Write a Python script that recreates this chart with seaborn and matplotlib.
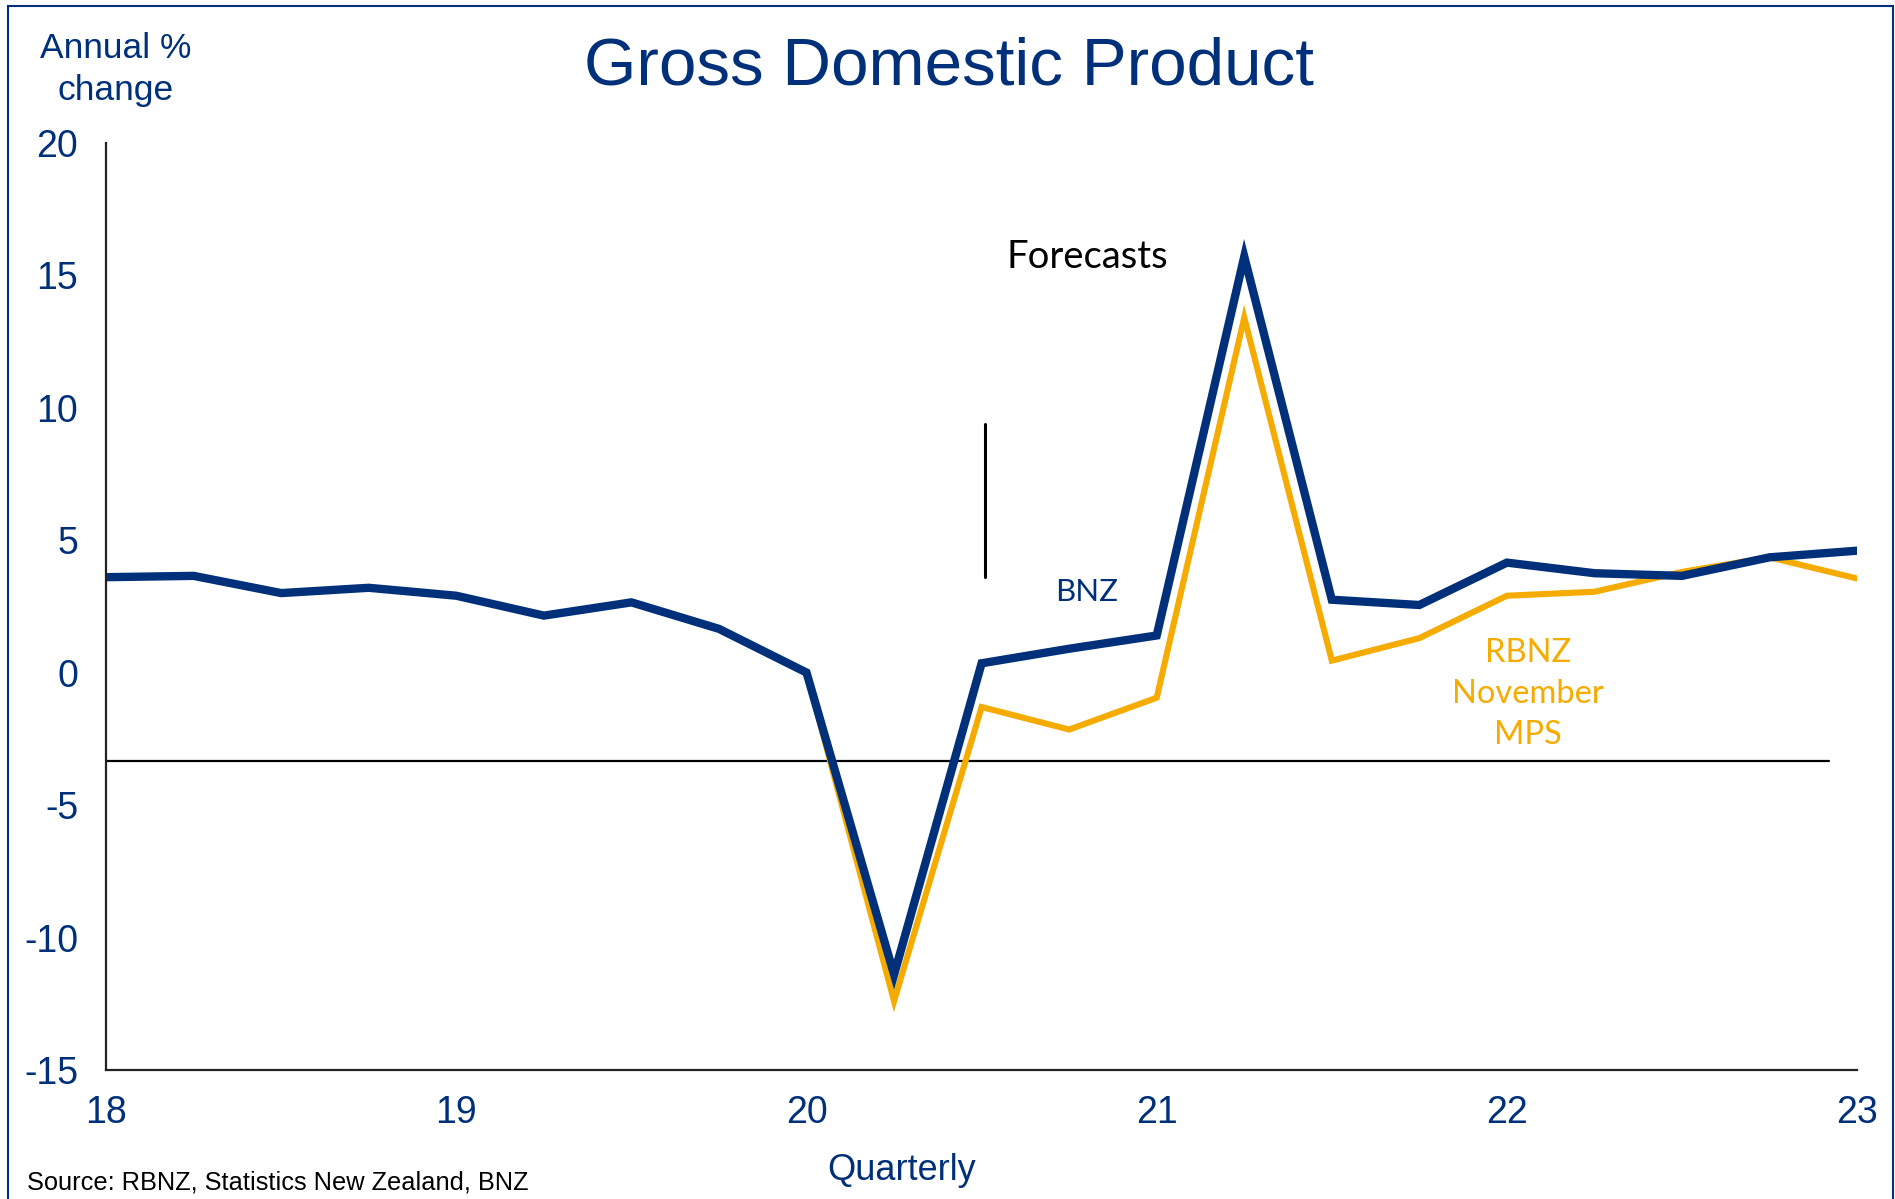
import numpy as np
import pandas as pd
import matplotlib
matplotlib.use("Agg")
import matplotlib.pyplot as plt
import seaborn as sns
from matplotlib.patches import Rectangle

# ---- data ----
quarters = [18.0, 18.25, 18.5, 18.75, 19.0, 19.25, 19.5, 19.75, 20.0, 20.25, 20.5,
            20.75, 21.0, 21.25, 21.5, 21.75, 22.0, 22.25, 22.5, 22.75, 23.0]
bnz = [3.6, 3.65, 3.0, 3.2, 2.9, 2.15, 2.65, 1.65, 0.0, -11.4, 0.35,
       0.9, 1.4, 15.7, 2.75, 2.55, 4.15, 3.75, 3.65, 4.35, 4.6]
rbnz = [3.6, 3.65, 3.0, 3.2, 2.9, 2.15, 2.65, 1.65, 0.0, -12.4, -1.3,
        -2.15, -0.95, 13.4, 0.45, 1.3, 2.9, 3.05, 3.8, 4.35, 3.55]
xticks = [18, 19, 20, 21, 22, 23]
yticks = [-15, -10, -5, 0, 5, 10, 15, 20]

NAVY = "#00307A"
ORANGE = "#F5AB00"

df = pd.DataFrame({
    "x": quarters * 2,
    "y": rbnz + bnz,
    "series": ["RBNZ"] * len(quarters) + ["BNZ"] * len(quarters),
})

sns.set_theme(style="white")
plt.rcParams['font.family'] = ['Liberation Sans', 'DejaVu Sans']

fig = plt.figure(figsize=(18.95, 11.99), dpi=100)
ax = fig.add_axes([0.056, 0.1076, 0.924, 0.7734])

sns.lineplot(data=df[df.series == "RBNZ"], x="x", y="y", color=ORANGE, lw=4.4, ax=ax,
             legend=False, solid_joinstyle="miter")
sns.lineplot(data=df[df.series == "BNZ"], x="x", y="y", color=NAVY, lw=6.0, ax=ax,
             legend=False, solid_joinstyle="miter")

ax.set_xlim(18, 23)
ax.set_ylim(-15, 20)
ax.set_xticks(xticks)
ax.set_xticklabels([str(t) for t in xticks])
ax.set_yticks(yticks)
ax.set_yticklabels([str(t) for t in yticks])
ax.set_xlabel("")
ax.set_ylabel("")
for s in ["top", "right"]:
    ax.spines[s].set_visible(False)
for s in ["left", "bottom"]:
    ax.spines[s].set_color("#222222")
    ax.spines[s].set_linewidth(1.6)
ax.tick_params(axis="both", direction="out", length=8, width=1.6, color="#222222",
               labelsize=27, labelcolor=NAVY)
ax.tick_params(axis="x", pad=10)
ax.tick_params(axis="y", pad=12)

# annotation lines
ax.plot([18.0, 22.92], [-3.35, -3.35], color="black", lw=1.6, zorder=1)
ax.plot([20.51, 20.51], [9.4, 3.6], color="black", lw=2.2)

# annotation texts
ax.text(20.57, 15.7, "Forecasts", fontsize=27.5, color="black", family=["Lato", "DejaVu Sans"],
        ha="left", va="center")
ax.text(20.8, 3.05, "BNZ", fontsize=22.5, color=NAVY, family=["Lato", "DejaVu Sans"],
        ha="center", va="center")
ax.text(22.06, -0.8, "RBNZ\nNovember\nMPS", fontsize=23.5, color=ORANGE,
        family=["Lato", "DejaVu Sans"], ha="center", va="center", linespacing=1.45)

# figure texts
fig.text(0.501, 0.944, "Gross Domestic Product", fontsize=48.5, color=NAVY,
         ha="center", va="center")
fig.text(0.061, 0.942, "Annual %\nchange", fontsize=25.5, color=NAVY, ha="center",
         va="center", linespacing=1.32)
fig.text(0.476, 0.024, "Quarterly", fontsize=26, color=NAVY, ha="center", va="center")
fig.text(0.014, 0.014, "Source: RBNZ, Statistics New Zealand, BNZ", fontsize=18.3,
         color="black", ha="left", va="center")

# outer frame
fig.patches.append(Rectangle((0.004, -0.01), 0.995, 1.005, transform=fig.transFigure,
                             fill=False, edgecolor=NAVY, lw=1.5))

fig.savefig("out.png", dpi=100)
